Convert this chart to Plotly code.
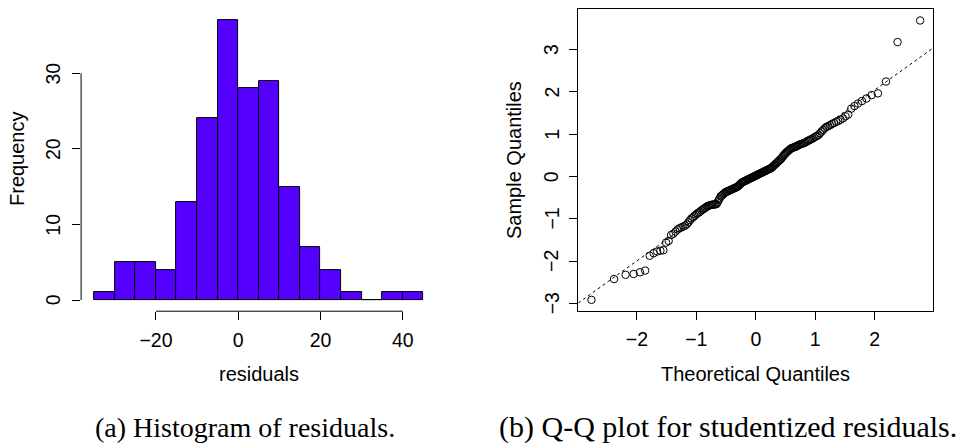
import numpy as np
import plotly.graph_objects as go
from statistics import NormalDist

# ---------------- data ----------------
bin_edges = [-35, -30, -25, -20, -15, -10, -5, 0, 5, 10, 15, 20, 25, 30, 35, 40, 45]
bin_counts = [1, 5, 5, 4, 13, 24, 37, 28, 29, 15, 7, 4, 1, 0, 1, 1]

hist_xticks = [-20, 0, 20, 40]
hist_yticks = [0, 10, 20, 30]
qq_xticks = [-2, -1, 0, 1, 2]
qq_yticks = [-3, -2, -1, 0, 1, 2, 3]

# sorted studentized residuals
sample_quantiles = [
    -2.91, -2.42, -2.32, -2.30, -2.26, -2.22, -1.87, -1.81, -1.77, -1.75,
    -1.74, -1.56, -1.52, -1.38, -1.35, -1.30, -1.25, -1.22, -1.20, -1.18,
    -1.16, -1.13, -1.08, -1.03, -0.99, -0.96, -0.93, -0.90, -0.87, -0.85,
    -0.83, -0.80, -0.78, -0.76, -0.74, -0.72, -0.70, -0.69, -0.68, -0.67,
    -0.67, -0.66, -0.66, -0.66, -0.65, -0.61, -0.56, -0.52, -0.47, -0.45,
    -0.43, -0.41, -0.39, -0.37, -0.36, -0.35, -0.34, -0.33, -0.32, -0.31,
    -0.30, -0.29, -0.28, -0.27, -0.26, -0.25, -0.24, -0.22, -0.20, -0.18,
    -0.16, -0.14, -0.13, -0.12, -0.11, -0.10, -0.09, -0.08, -0.07, -0.06,
    -0.05, -0.04, -0.03, -0.02, -0.01, 0.00, 0.01, 0.02, 0.03, 0.04,
    0.05, 0.06, 0.07, 0.08, 0.09, 0.10, 0.11, 0.12, 0.13, 0.14,
    0.15, 0.16, 0.17, 0.18, 0.19, 0.20, 0.22, 0.24, 0.26, 0.28,
    0.30, 0.32, 0.34, 0.36, 0.38, 0.40, 0.42, 0.45, 0.48, 0.51,
    0.53, 0.56, 0.58, 0.60, 0.62, 0.64, 0.66, 0.67, 0.68, 0.69,
    0.70, 0.71, 0.72, 0.74, 0.75, 0.76, 0.77, 0.78, 0.79, 0.80,
    0.82, 0.84, 0.85, 0.87, 0.88, 0.90, 0.92, 0.94, 0.96, 0.98,
    1.02, 1.06, 1.10, 1.14, 1.17, 1.19, 1.21, 1.24, 1.26, 1.29,
    1.31, 1.34, 1.37, 1.42, 1.46, 1.60, 1.66, 1.72, 1.78, 1.84,
    1.92, 1.96, 2.24, 3.17, 3.68,
]

# ---------------- derived (as R's hist / qqnorm / qqline do) ----------------
edges = np.array(bin_edges, dtype=float)
centers = (edges[:-1] + edges[1:]) / 2
widths = np.diff(edges)

y = np.sort(np.array(sample_quantiles))
n = len(y)
nd = NormalDist()
theo = np.array([nd.inv_cdf((i - 0.5) / n) for i in range(1, n + 1)])

q1, q3 = np.quantile(y, [0.25, 0.75])
z1, z3 = nd.inv_cdf(0.25), nd.inv_cdf(0.75)
slope = (q3 - q1) / (z3 - z1)
intercept = q1 - slope * z1


def rng(lo, hi):
    d = hi - lo
    return [lo - 0.04 * d, hi + 0.04 * d]


hx_range = rng(edges[0], edges[-1])
hy_range = rng(0, max(bin_counts))
qx_range = rng(theo.min(), theo.max())
qy_range = rng(y.min(), y.max())

W, H = 959, 446


def px(v):
    return v / W


def py(v):
    return 1 - v / H


def minus(v):
    return str(v).replace("-", "\u2212")


FONT = "Liberation Sans, Arial, Helvetica, sans-serif"
SERIF = "Liberation Serif, Times New Roman, serif"
TICKF = dict(family=FONT, size=19.5, color="black")
LABF = dict(family=FONT, size=20, color="black")

fig = go.Figure()

fig.add_trace(go.Bar(
    x=centers, y=bin_counts, width=widths,
    marker=dict(color="#5500ff", line=dict(color="black", width=1)),
    xaxis="x", yaxis="y", showlegend=False,
))

fig.add_trace(go.Scatter(
    x=list(qx_range), y=[intercept + slope * v for v in qx_range],
    mode="lines", line=dict(color="black", width=1, dash="3px,3px"),
    xaxis="x2", yaxis="y2", showlegend=False,
))
fig.add_trace(go.Scatter(
    x=theo, y=y, mode="markers",
    marker=dict(symbol="circle-open", size=7.5, color="black", line=dict(width=1)),
    xaxis="x2", yaxis="y2", showlegend=False,
))

axis_common = dict(
    showgrid=False, zeroline=False, ticks="outside", ticklen=8,
    tickcolor="black", tickwidth=1, tickfont=TICKF,
)

# rotated y tick labels (R style), placed next to their axes
ytick_ann = []
for v in hist_yticks:
    ytick_ann.append(dict(text=minus(v), x=px(53.3), y=v, xref="paper", yref="y",
                          textangle=-90, showarrow=False, font=TICKF,
                          xanchor="center", yanchor="middle"))
for v in qq_yticks:
    ytick_ann.append(dict(text=minus(v), x=px(551.7), y=v, xref="paper", yref="y2",
                          textangle=-90, showarrow=False, font=TICKF,
                          xanchor="center", yanchor="middle"))

fig.update_layout(
    width=W, height=H,
    margin=dict(l=0, r=0, t=0, b=0),
    paper_bgcolor="white", plot_bgcolor="white",
    bargap=0,
    xaxis=dict(domain=[px(81.1), px(436.5)], range=hx_range, tickvals=hist_xticks,
               ticktext=[minus(v) for v in hist_xticks], showline=False,
               anchor="y", ticklabelstandoff=3, **axis_common),
    yaxis=dict(domain=[py(311.2), py(9.1)], range=hy_range, tickvals=hist_yticks,
               showticklabels=False, showline=False, anchor="x", **axis_common),
    xaxis2=dict(domain=[px(578.3), px(933.3)], range=qx_range, tickvals=qq_xticks,
                ticktext=[minus(v) for v in qq_xticks],
                showline=True, mirror=True, linecolor="black", linewidth=1,
                anchor="y2", ticklabelstandoff=3, **axis_common),
    yaxis2=dict(domain=[py(311.0), py(9.3)], range=qy_range, tickvals=qq_yticks,
                showticklabels=False, showline=True, mirror=True, linecolor="black",
                linewidth=1, anchor="x2", **axis_common),
    shapes=[
        dict(type="line", xref="x", yref="paper", x0=hist_xticks[0], x1=hist_xticks[-1],
             y0=py(311.2), y1=py(311.2), line=dict(color="black", width=1)),
        dict(type="line", xref="paper", yref="y", x0=px(81.1), x1=px(81.1),
             y0=hist_yticks[0], y1=hist_yticks[-1], line=dict(color="black", width=1)),
    ],
    annotations=ytick_ann + [
        dict(text="Frequency", x=px(17), y=py(159), xref="paper", yref="paper",
             textangle=-90, showarrow=False, font=LABF, xanchor="center", yanchor="middle"),
        dict(text="residuals", x=px(258.8), y=py(374), xref="paper", yref="paper",
             showarrow=False, font=LABF, xanchor="center", yanchor="middle"),
        dict(text="Sample Quantiles", x=px(514), y=py(160), xref="paper", yref="paper",
             textangle=-90, showarrow=False, font=LABF, xanchor="center", yanchor="middle"),
        dict(text="Theoretical Quantiles", x=px(755.8), y=py(374), xref="paper", yref="paper",
             showarrow=False, font=LABF, xanchor="center", yanchor="middle"),
        dict(text="(a) Histogram of residuals.", x=px(245), y=py(427), xref="paper", yref="paper",
             showarrow=False, font=dict(family=SERIF, size=28, color="black"),
             xanchor="center", yanchor="middle"),
        dict(text="(b) Q-Q plot for studentized residuals.", x=px(497), y=py(427),
             xref="paper", yref="paper", showarrow=False,
             font=dict(family=SERIF, size=30, color="black"),
             xanchor="left", yanchor="middle"),
    ],
)

fig.write_html("out.html")
